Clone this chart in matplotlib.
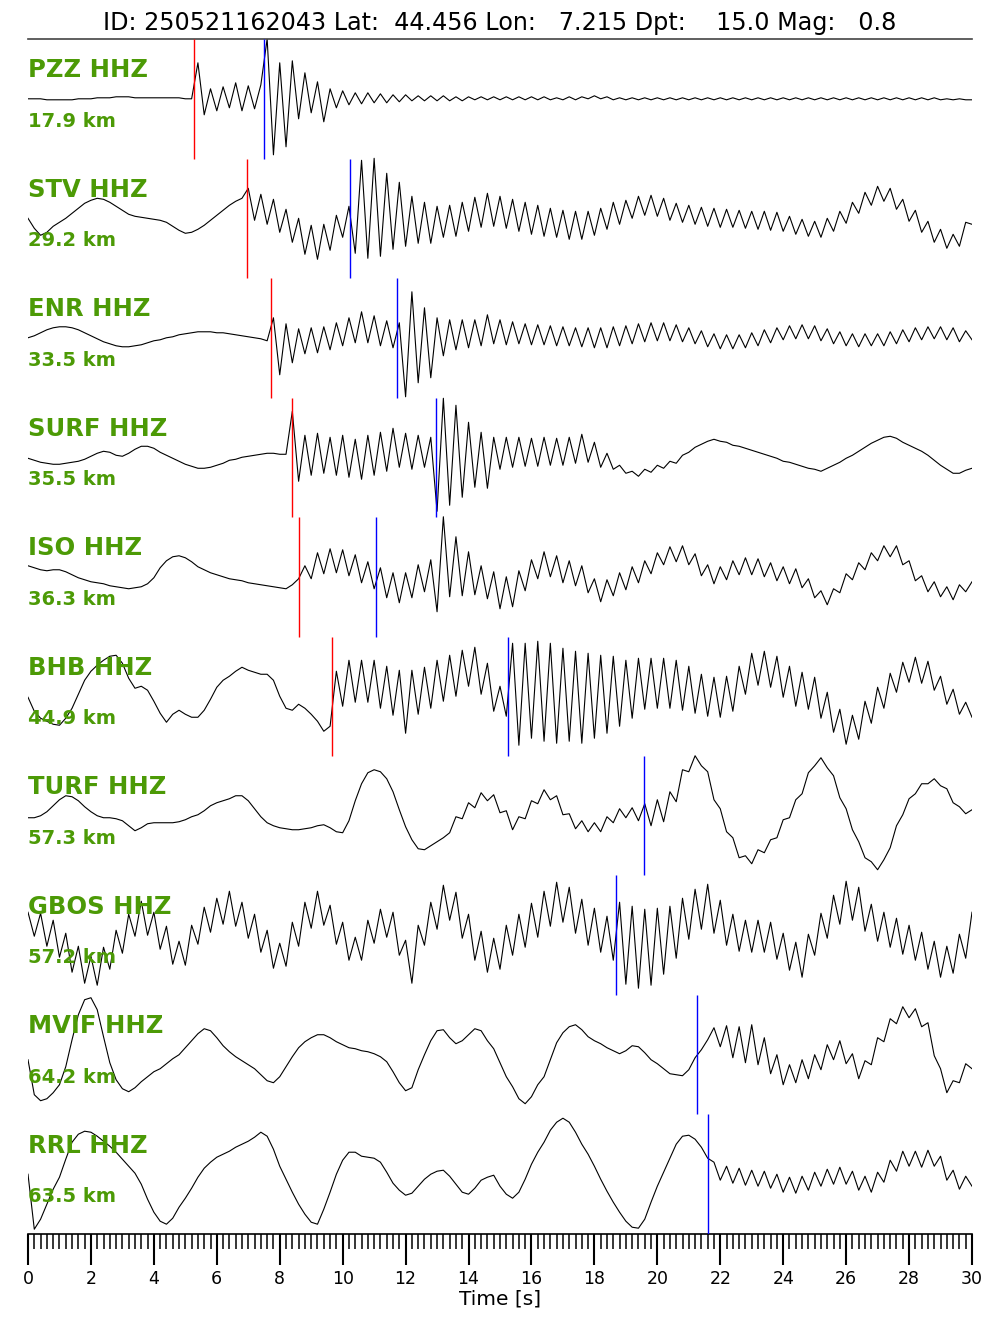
import numpy as np
import matplotlib
matplotlib.use("Agg")
import matplotlib.pyplot as plt
from matplotlib.ticker import MultipleLocator

# ---------------- event / station info ----------------
title = "ID: 250521162043 Lat:  44.456 Lon:   7.215 Dpt:    15.0 Mag:   0.8"
stations = ["PZZ HHZ", "STV HHZ", "ENR HHZ", "SURF HHZ", "ISO HHZ",
            "BHB HHZ", "TURF HHZ", "GBOS HHZ", "MVIF HHZ", "RRL HHZ"]
distances = ["17.9 km", "29.2 km", "33.5 km", "35.5 km", "36.3 km",
             "44.9 km", "57.3 km", "57.2 km", "64.2 km", "63.5 km"]
p_picks = [5.27, 6.96, 7.72, 8.39, 8.61, 9.66, None, None, None, None]
s_picks = [7.50, 10.23, 11.73, 12.96, 11.06, 15.25, 19.57, 18.68, 21.26, 21.61]

# ---------------- waveforms (read every 0.2 s, arbitrary units) ----------------
pzz = [0, 0, 0, -1, -1, -1, -1, -1, 0, 0, 0, 1, 1, 1, 2, 2, 2, 1, 1, 1, 1, 1, 1, 1, 1, 0, 0,
       36, -16, 10, -12, 12, -9, 16, -12, 13, -10, 14, 60, -56, 36, -48, 38, -20, 26, -14, 17,
       -23, 10, -9, 8, -6, 6, -5, 6, -4, 5, -4, 4, -3, 4,
       -2, 3, -2, 3, -2, 3, -2, 2, -2, 2, -1, 2, -1, 2, -1,
       2, -1, 2, -1, 2, -1, 2, -1, 1, -1, 2, -1, 2, 0, 3, 0, 2, -1, 1, -1,
       1, -1, 1, -1, 1, -1, 1, -1, 1, -1, 1, -1, 1, -1, 1, -1, 1, -1, 1, -1,
       1, -1, 1, -1, 1, -1, 1, -1, 1, -1, 1, -1, 1, -1, 1, -1, 1, -1, 1, -1,
       1, -1, 1, -1, 1, -1, 1, -1, 1, -1, 0, -1, 0, -1, -1]

stv = [0, -10, -17, -14, -8, -4, 0, 5, 10, 15, 18, 20, 19, 16, 12, 8, 4, 2, 1, 0,
       -1, -2, -4, -8, -12, -15, -14, -11, -7, -2, 3, 8, 13, 17, 20,
       30, -2, 24, -6, 19, -14, 9, -24, 0, -36, -7, -41, -6, -32, 3, -19, 12, -35,
       58, -40, 60, -38, 45, -31, 36, -28, 22, -25, 16, -25, 12, -19, 13, -18, 16, -13,
       21, -9, 25, -8, 22, -10, 19, -13, 16, -16, 13, -18, 10, -19, 8, -21, 7, -21,
       7, -17, 10, -11, 16, -6, 18, 0, 22, 3, 23, 2, 20, -2, 15, -4, 13, -6, 11, -8,
       10, -9, 9, -9, 8, -10, 7, -11, 7, -12, 6, -13, 2, -16, -1, -18, -3, -19, 0, -13,
       7, -5, 16, 5, 26, 13, 32, 17, 30, 9, 19, -3, 8, -14, -3, -24, -11, -30, -16, -28,
       -4, -6]

enr = [0, 2, 5, 8, 10, 11, 11, 10, 8, 5, 2, -1, -4, -6, -8, -9, -9, -8, -7, -5,
       -3, -2, 0, 1, 3, 4, 5, 6, 6, 6, 5, 5, 4, 3, 2, 1, 0, -1, -3,
       20, -37, 14, -25, 9, -16, 10, -15, 11, -12, 15, -8, 20, -5, 26, -5, 22, -8, 17, -10,
       15, -59, 46, -45, 30, -40, 20, -18, 18, -12, 18, -10, 18, -8, 23, -6, 18, -7, 16, -6,
       14, -7, 13, -7, 12, -8, 11, -8, 10, -9, 10, -10, 10, -10, 11, -8, 12, -6, 14, -4,
       15, -3, 15, -3, 13, -4, 10, -6, 7, -9, 4, -11, 3, -11, 3, -10, 5, -8, 8, -5,
       10, -2, 12, -1, 13, -1, 12, -3, 9, -6, 6, -8, 4, -9, 4, -8, 4, -8, 6, -6,
       8, -4, 10, -2, 11, -1, 11, -2, 10, -4, 7, -2]

surf = [-1, -3, -5, -6, -7, -7, -6, -5, -4, -2, 1, 4, 6, 5, 2, 1, 4, 8, 11, 11,
        9, 5, 2, -1, -4, -7, -9, -11, -11, -10, -8, -6, -3, -2, 0, 1, 2, 3, 4, 4, 3, 3,
        46, -24, 22, -18, 24, -16, 20, -18, 22, -20, 18, -22, 22, -18, 25, -14, 29, -10,
        24, -12, 22, -10, 20, -54, 59, -48, 52, -40, 35, -30, 25, -31, 20, -12, 20, -10,
        20, -9, 19, -9, 20, -8, 19, -8, 20, -6, 23, -5, 15, -10, 4, -12, -8, -16, -14, -19,
        -12, -15, -8, -11, -4, -6, 2, 5, 10, 13, 16, 18, 16, 15, 12, 11, 9, 7, 5, 3,
        1, -1, -4, -5, -7, -9, -11, -12, -14, -11, -8, -5, -1, 2, 6, 10, 14, 17, 20, 21,
        19, 15, 12, 9, 6, 2, -3, -8, -12, -16, -16, -13, -11]

iso = [11, 9, 7, 6, 7, 7, 5, 2, -1, -3, -5, -6, -7, -9, -10, -11, -12, -11, -10, -7,
       -1, 9, 16, 20, 21, 19, 15, 10, 7, 4, 2, 0, -2, -3, -4, -6, -7, -8, -9, -10,
       -11, -12, -8, -2,
       11, -2, 24, 3, 28, 4, 27, 1, 22, -6, 15, -12, 9, -21, 4, -26, 4, -21, 12, -15,
       17, -35, 60, -20, 40, -19, 25, -18, 11, -22, 5, -32, 0, -30, 6, -14, 17, -2, 25, 0,
       21, -6, 16, -9, 11, -16, -2, -25, -3, -19, 4, -13, 10, -6, 16, 3, 24, 12, 30, 15,
       31, 12, 23, 1, 12, -7, 10, -3, 16, 2, 19, 2, 18, 0, 14, -4, 10, -7, 8, -11,
       -2, -21, -14, -28, -12, -16, 3, -3, 14, 7, 24, 16, 31, 20, 31, 12, 16, -4, 1, -15,
       -5, -20, -10, -23, -8, -15, -5]

bhb = [-1, -15, -22, -25, -28, -29, -22, -12, 2, 16, 25, 31, 36, 40, 41, 33, 18, 8, 10, 6,
       -5, -17, -26, -18, -14, -18, -21, -21, -14, -3, 9, 16, 20, 25, 29, 26, 24, 22, 22, 16,
       0, -12, -14, -8, -12, -18, -25, -35, -30,
       25, -10, 36, -6, 36, -6, 36, -12, 30, -19, 26, -37, 26, -18, 29, -12, 36, -5, 41, 0,
       46, 10, 49, 2, 33, -15, 10, -20, 53, -49, 53, -42, 55, -45, 53, -47, 48, -45, 45, -47,
       43, -42, 41, -37, 40, -30, 36, -22, 38, -13, 38, -12, 38, -12, 36, -14, 30, -17, 22, -20,
       19, -21, 20, -15, 30, 2, 43, 11, 45, 9, 40, -1, 30, -10, 24, -13, 19, -22, 4, -36,
       -13, -48, -19, -43, -5, -27, 9, -12, 23, 4, 34, 14, 39, 13, 35, 6, 20, -8, 7, -18,
       -6, -21]

turf = [-2, -2, 0, 4, 10, 16, 20, 19, 15, 9, 4, 0, -2, -2, -3, -5, -10, -15, -12, -8,
        -7, -7, -7, -7, -6, -4, -1, 1, 5, 10, 13, 15, 17, 20, 20, 15, 7, -1, -7, -10,
        -12, -13, -14, -14, -13, -12, -10, -9, -12, -16, -17, -5, 15, 32, 43, 46, 44, 37, 24, 6,
        -11, -24, -33, -34, -30, -26, -22, -17,
        -1, -3, 13, 8, 23, 15, 21, 3, 5, -14, -1, -3, 15, 12, 26, 16, 20, 1, 2, -13,
        -5, -16, -7, -16, -1, -7, 7, -2, 8, -5, 12, -10, 16, -6, 24, 14, 46, 44, 60, 50,
        44, 16, 7, -16, -22, -42, -40, -48, -34, -37, -24, -22, -4, -2, 16, 22, 43, 50, 58, 48,
        40, 18, 7, -14, -26, -42, -46, -54, -44, -32, -10, 1, 17, 22, 32, 32, 37, 30, 27, 13,
        9, 2, 6]

gbos = [23, -1, 22, -11, 15, -22, 2, -37, -11, -48, -21, -50, -12, -34, 5, -18, 21, -1, 34, 0,
        23, -14, 9, -29, -6, -30, 10, -9, 28, 3, 37, 11, 44, 9, 33, -3, 21, -17, 5, -33,
        -8, -31, 13, -11, 33, 7, 44, 10, 30, -9, 13, -25, -2, -25, 15, -8, 26, -2, 23, -20,
        -5, -48, 10, -10, 33, 6, 50, 15, 43, -3, 21, -25, 4, -37, -3, -34, 10, -20, 21, -12,
        32, -2, 44, 9, 53, 13, 48, 2, 36, -10, 27, -17, 19, -25, 33, -49, 29, -53, 26, -50,
        27, -39, 29, -23, 37, -4, 46, 6, 51, 2, 35, -10, 21, -16, 15, -17, 15, -17, 13, -24,
        2, -35, -7, -42, 1, -20, 22, -3, 40, 11, 54, 15, 48, 4, 31, -6, 23, -12, 17, -19,
        10, -25, 3, -34, -6, -42, -11, -38, 1, -23, 23]

mvif = [-5, -40, -46, -44, -38, -30, -12, 15, 40, 55, 57, 45, 18, -8, -25, -34, -37, -33, -27, -22,
        -17, -14, -9, -4, 0, 7, 14, 21, 26, 24, 17, 9, 3, -2, -6, -10, -14, -20, -26, -28,
        -22, -12, -2, 7, 13, 17, 20, 20, 17, 13, 10, 7, 6, 4, 3, 1, -2, -7, -17, -28,
        -36, -33, -15, 0, 14, 24, 25, 17, 11, 14, 20, 26, 24, 14, 6, -8, -22, -32, -44, -49,
        -42, -30, -22, -5, 12, 22, 28, 30, 25, 18, 14, 11, 7, 4, 1, 4, 9, 8, 2, -5,
        -9, -14, -19, -20, -21, -15, -3, 5, 15,
        27, 8, 29, -3, 28, -8, 30, -10, 17, -19, 0, -30, -10, -28, -5, -24, 0, -15, 10, -5,
        14, -9, 1, -24, -6, -10, 17, 13, 36, 31, 48, 37, 46, 28, 32, -1, -14, -38, -26, -28,
        -9, -14]

rrl = [0, -55, -45, -30, -15, -3, 15, 32, 40, 43, 42, 38, 33, 28, 22, 15, 8, 1, -10, -25,
       -38, -47, -50, -44, -33, -24, -14, -3, 6, 12, 17, 20, 23, 27, 30, 33, 37, 42, 38, 25,
       8, -5, -18, -30, -40, -48, -50, -35, -18, 0, 14, 22, 22, 18, 17, 16, 12, 2, -9, -16,
       -21, -19, -12, -5, 0, 3, 4, -2, -10, -18, -20, -14, -6, -3, -1, -12, -20, -24, -18, -5,
       10, 22, 32, 44, 52, 56, 52, 42, 30, 20, 8, -5, -17, -28, -38, -47, -53, -54, -45, -28,
       -12, 2, 16, 30, 38, 39, 35, 27, 16,
       12, -6, 8, -9, 6, -11, 4, -12, 3, -14, 0, -18, -3, -19, -2, -16, 2, -12, 5, -10,
       7, -10, 3, -16, -2, -18, 2, -8, 14, 3, 23, 8, 23, 7, 24, 8, 18, -6, 4, -15,
       -2, -12]

traces = [pzz, stv, enr, surf, iso, bhb, turf, gbos, mvif, rrl]

band_px = 119.5          # pixel height of one trace band
label_green = "#4c9a06"


def plot_section():
    fig = plt.figure(figsize=(10, 13.33), dpi=100)
    ax = fig.add_axes([0.028, 0.0743, 0.944, 0.8964])

    for i, vals in enumerate(traces):
        vals = np.array(vals, dtype=float)
        t = np.linspace(0, 30, len(vals))
        ax.plot(t, i + 0.5 - vals / band_px, color="black", lw=0.8, zorder=2)

        if p_picks[i] is not None:
            ax.vlines(p_picks[i], i, i + 1, color="red", lw=1.0, zorder=3)
        if s_picks[i] is not None:
            ax.vlines(s_picks[i], i, i + 1, color="blue", lw=1.0, zorder=3)

        ax.text(0, i + 0.26, stations[i], color=label_green, fontsize=17.5,
                fontweight="bold", ha="left", va="center", zorder=5)
        ax.text(0, i + 0.69, distances[i], color=label_green, fontsize=14,
                fontweight="bold", ha="left", va="center", zorder=5)

    ax.set_xlim(0, 30)
    ax.set_ylim(10, 0)
    ax.set_yticks([])
    ax.set_xticks(np.arange(0, 31, 2))
    ax.xaxis.set_minor_locator(MultipleLocator(0.2))
    ax.tick_params(axis="x", which="major", length=22, width=1.5, labelsize=12.5, pad=4)
    ax.tick_params(axis="x", which="minor", length=11, width=1.1)
    ax.set_xlabel("Time [s]", fontsize=14.5, labelpad=1)

    ax.spines["left"].set_visible(False)
    ax.spines["right"].set_visible(False)
    ax.spines["top"].set_color("#444444")
    ax.spines["top"].set_linewidth(1.2)
    ax.spines["bottom"].set_linewidth(1.2)

    fig.text(0.5, 0.983, title, fontsize=17.2, ha="center", va="center")

    fig.savefig("out.png", dpi=100)


if __name__ == "__main__":
    plot_section()
